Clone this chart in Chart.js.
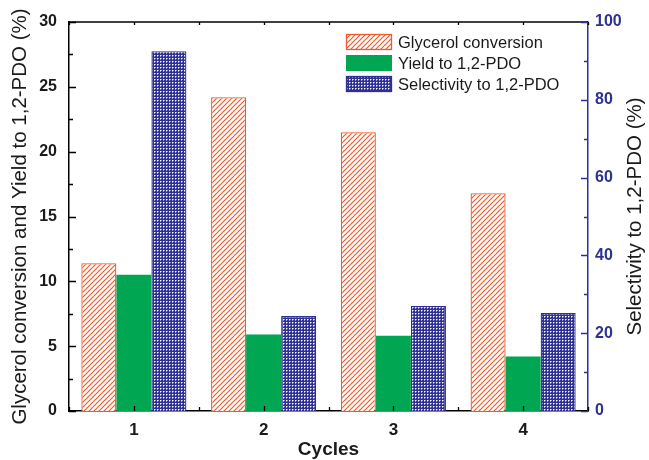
<!DOCTYPE html>
<html>
<head>
<meta charset="utf-8">
<script src="https://cdn.jsdelivr.net/npm/chart.js@4/dist/chart.umd.min.js"></script>
<style>
  html, body { margin: 0; padding: 0; background: #ffffff; }
  canvas { display: block; }
</style>
</head>
<body>
<canvas id="chart" width="649" height="460"></canvas>
<script>
// Catalyst reuse: four cycles
const cycles = ['1', '2', '3', '4'];
const glycerolConversion = [11.4, 24.2, 21.5, 16.8];   // %, left axis
const yieldTo12PDO = [10.5, 5.9, 5.8, 4.2];            // %, left axis
const selectivityTo12PDO = [92.5, 24.4, 27.0, 25.2];   // %, right axis
const leftTicks = [0, 5, 10, 15, 20, 25, 30];
const rightTicks = [0, 20, 40, 60, 80, 100];
const rightAxisTitle = 'Selectivity to 1,2-PDO (%)';

const FONT = '"Liberation Sans", Arial, Helvetica, sans-serif';
const ORANGE = '#f15a29';
const GREEN = '#00a651';
const BLUE = '#2e3192';
const TITLE_SIZE = 20.5;

const canvas = document.getElementById('chart');
const ctx = canvas.getContext('2d');

// Diagonal "///" hatch on white
function makeHatch(color) {
  const s = 5;
  const c = document.createElement('canvas');
  c.width = s; c.height = s;
  const g = c.getContext('2d');
  g.fillStyle = '#ffffff';
  g.fillRect(0, 0, s, s);
  g.strokeStyle = color;
  g.lineWidth = 1.2;
  g.beginPath();
  g.moveTo(0, s); g.lineTo(s, 0);
  g.moveTo(-1, 1); g.lineTo(1, -1);
  g.moveTo(s - 1, s + 1); g.lineTo(s + 1, s - 1);
  g.stroke();
  return ctx.createPattern(c, 'repeat');
}

// Fine blue grid with white dots
function makeDots(color) {
  const s = 3;
  const c = document.createElement('canvas');
  c.width = s; c.height = s;
  const g = c.getContext('2d');
  g.fillStyle = color;
  g.fillRect(0, 0, s, s);
  g.fillStyle = '#ffffff';
  g.fillRect(1, 1, 1, 1);
  g.fillStyle = 'rgba(255,255,255,0.5)';
  g.fillRect(2, 1, 1, 1);
  g.fillRect(1, 2, 1, 1);
  return ctx.createPattern(c, 'repeat');
}

const hatchFill = makeHatch(ORANGE);
const dotFill = makeDots(BLUE);

// Inward tick marks, top frame line, right-hand axis title
const frameTicks = {
  id: 'frameTicks',
  afterDatasetsDraw(chart) {
    const { ctx, chartArea: a, scales } = chart;
    const yL = scales.yLeft, yR = scales.yRight, x = scales.x;
    ctx.save();
    ctx.lineWidth = 1.3;
    ctx.strokeStyle = '#000000';
    // top frame
    ctx.beginPath();
    ctx.moveTo(a.left, a.top);
    ctx.lineTo(a.right, a.top);
    ctx.stroke();
    // left axis ticks
    ctx.beginPath();
    for (let v = 0; v <= 30; v += 2.5) {
      const py = Math.round(yL.getPixelForValue(v)) + 0.5;
      const len = (v % 5 === 0) ? 7 : 4;
      ctx.moveTo(a.left, py);
      ctx.lineTo(a.left + len, py);
    }
    // x ticks (category centres and boundaries), bottom and top
    for (let i = -0.5; i <= cycles.length - 0.5; i += 0.5) {
      const px = Math.round(x.getPixelForValue(i)) + 0.5;
      const len = Number.isInteger(i) ? 5 : 4;
      ctx.moveTo(px, a.bottom);
      ctx.lineTo(px, a.bottom - len);
      ctx.moveTo(px, a.top);
      ctx.lineTo(px, a.top + 3);
    }
    ctx.stroke();
    // right axis ticks
    ctx.strokeStyle = BLUE;
    ctx.beginPath();
    for (let v = 0; v <= 100; v += 10) {
      const py = Math.round(yR.getPixelForValue(v)) + 0.5;
      const len = (v % 20 === 0) ? 7 : 4;
      ctx.moveTo(a.right, py);
      ctx.lineTo(a.right - len, py);
    }
    ctx.stroke();
    // right axis title, reading bottom to top
    ctx.translate(yR.right - 14, (a.top + a.bottom) / 2);
    ctx.rotate(-Math.PI / 2);
    ctx.font = TITLE_SIZE + 'px ' + FONT;
    ctx.fillStyle = '#1a1a1a';
    ctx.textAlign = 'center';
    ctx.textBaseline = 'middle';
    ctx.fillText(rightAxisTitle, 0, 0);
    ctx.restore();
  }
};

// Legend boxed in the upper right of the plot
const boxLegend = {
  id: 'boxLegend',
  afterDraw(chart) {
    const { ctx } = chart;
    const x0 = 346, y0 = 34, w = 46, h = 16, pitch = 21;
    ctx.save();
    ctx.font = '16.5px ' + FONT;
    ctx.textBaseline = 'middle';
    ctx.textAlign = 'left';
    chart.data.datasets.forEach((ds, i) => {
      const y = y0 + i * pitch;
      ctx.fillStyle = ds.backgroundColor;
      ctx.fillRect(x0, y, w, h);
      if (ds.borderWidth) {
        ctx.strokeStyle = ds.borderColor;
        ctx.lineWidth = 1.3;
        ctx.strokeRect(x0 + 0.5, y + 0.5, w - 1, h - 1);
      }
      ctx.fillStyle = '#1a1a1a';
      ctx.fillText(ds.label, x0 + 52, y + h / 2 + 1);
    });
    ctx.restore();
  }
};

new Chart(ctx, {
  type: 'bar',
  data: {
    labels: cycles,
    datasets: [
      {
        label: 'Glycerol conversion',
        data: glycerolConversion,
        yAxisID: 'yLeft',
        backgroundColor: hatchFill,
        borderColor: ORANGE,
        borderWidth: 1.3
      },
      {
        label: 'Yield to 1,2-PDO',
        data: yieldTo12PDO,
        yAxisID: 'yLeft',
        backgroundColor: GREEN,
        borderWidth: 0
      },
      {
        label: 'Selectivity to 1,2-PDO',
        data: selectivityTo12PDO,
        yAxisID: 'yRight',
        backgroundColor: dotFill,
        borderColor: BLUE,
        borderWidth: 1.3
      }
    ]
  },
  options: {
    responsive: false,
    animation: false,
    devicePixelRatio: 1,
    categoryPercentage: 0.81,
    barPercentage: 1.0,
    layout: { padding: { top: 22, left: 0, right: 0, bottom: 0 } },
    plugins: {
      legend: { display: false },
      tooltip: { enabled: false }
    },
    scales: {
      x: {
        type: 'category',
        grid: { display: false, drawTicks: false },
        border: { display: true, color: '#000000', width: 1.5 },
        ticks: {
          color: '#1a1a1a',
          padding: 9,
          font: { family: FONT, size: 17, weight: 'bold' }
        },
        title: {
          display: true,
          text: 'Cycles',
          color: '#1a1a1a',
          padding: { top: 0, bottom: 1 },
          font: { family: FONT, size: 19, weight: 'bold', lineHeight: 1 }
        },
        afterFit(scale) { scale.height = 49; }
      },
      yLeft: {
        type: 'linear',
        position: 'left',
        min: 0,
        max: 30,
        afterBuildTicks(scale) { scale.ticks = leftTicks.map(v => ({ value: v })); },
        grid: { display: false, drawTicks: false },
        border: { display: true, color: '#000000', width: 1.5 },
        ticks: {
          color: '#1a1a1a',
          padding: 12,
          font: { family: FONT, size: 16, weight: 'bold' }
        },
        title: {
          display: true,
          text: 'Glycerol conversion and Yield to 1,2-PDO (%)',
          color: '#1a1a1a',
          padding: { top: 8, bottom: 0 },
          font: { family: FONT, size: TITLE_SIZE, lineHeight: 1.2 }
        },
        afterFit(scale) { scale.width = 69; }
      },
      yRight: {
        type: 'linear',
        position: 'right',
        min: 0,
        max: 100,
        afterBuildTicks(scale) { scale.ticks = rightTicks.map(v => ({ value: v })); },
        grid: { display: false, drawTicks: false },
        border: { display: true, color: BLUE, width: 1.5 },
        ticks: {
          color: BLUE,
          padding: 7,
          font: { family: FONT, size: 16, weight: 'bold' }
        },
        title: { display: false },
        afterFit(scale) { scale.width = 61; }
      }
    }
  },
  plugins: [frameTicks, boxLegend]
});
</script>
</body>
</html>
